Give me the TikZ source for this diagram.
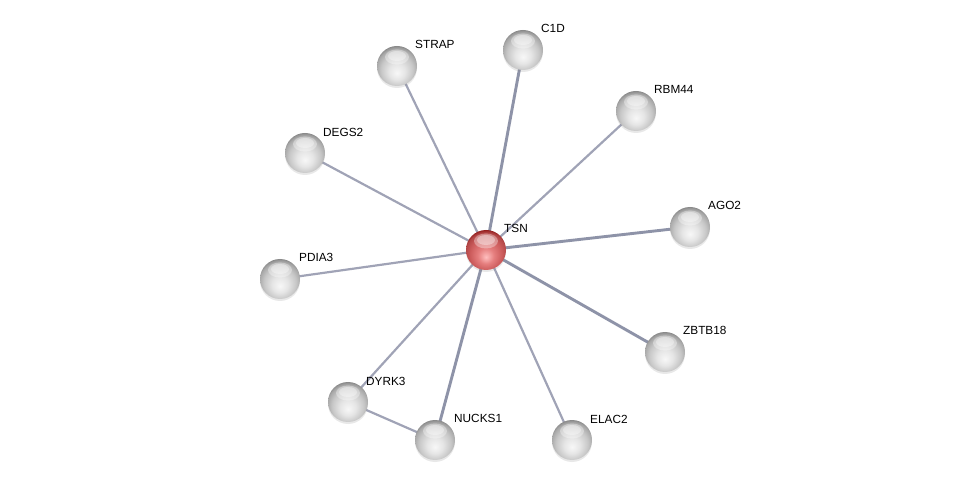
\documentclass[tikz,border=0pt]{standalone}
\usepackage{fontspec}
\setmainfont{Liberation Sans}
\usetikzlibrary{backgrounds,shadows}
\definecolor{edgec}{RGB}{160,163,182}
\definecolor{edgedk}{RGB}{142,147,168}
\pgfdeclareradialshading{gballsh}{\pgfpoint{0bp}{-9bp}}{color(0bp)=(black!3); color(10bp)=(black!10); color(20bp)=(black!22); color(26bp)=(black!34); color(31bp)=(black!55); color(50bp)=(black!55)}
\pgfdeclareradialshading{rballsh}{\pgfpoint{0bp}{-9bp}}{color(0bp)=(red!25!white); color(10bp)=(red!45!white!90!black); color(20bp)=(red!55!white!80!black); color(26bp)=(red!60!white!70!black); color(31bp)=(red!50!black); color(50bp)=(red!50!black)}
\begin{document}
\begin{tikzpicture}[x=1pt,y=-1pt,
  ballbase/.style={circle,minimum size=40pt,inner sep=0pt,
     drop shadow={shadow xshift=0pt,shadow yshift=-2pt,opacity=0.18},
     path picture={\fill[white,opacity=0.35] ([yshift=9pt]path picture bounding box.center) ellipse (12pt and 7.5pt);
                   \fill[white,opacity=0.35] ([yshift=10pt]path picture bounding box.center) ellipse (9pt and 5pt);}},
  gball/.style={ballbase,shading=gballsh},
  rball/.style={ballbase,shading=rballsh},
  lbl/.style={anchor=west,inner sep=0pt,font=\fontsize{11.8}{13}\selectfont},
  edge/.style={draw=edgec,line width=2.2pt},
  thick edge/.style={draw=edgedk,line width=2.9pt}]
\useasboundingbox (0,0) rectangle (975,486);
\node[rball] (TSN) at (486,250) {};
\node[gball] (STRAP) at (397,66) {};
\node[gball] (C1D) at (523,50) {};
\node[gball] (RBM44) at (636,111) {};
\node[gball] (DEGS2) at (305,153) {};
\node[gball] (AGO2) at (690,227) {};
\node[gball] (PDIA3) at (280,279) {};
\node[gball] (ZBTB18) at (665,352) {};
\node[gball] (DYRK3) at (348,402) {};
\node[gball] (NUCKS1) at (435,440) {};
\node[gball] (ELAC2) at (572,440) {};
\node[lbl] (lTSN) at (504,228) {TSN};
\node[lbl] (lSTRAP) at (415,44) {STRAP};
\node[lbl] (lC1D) at (541,28) {C1D};
\node[lbl] (lRBM44) at (654,89) {RBM44};
\node[lbl] (lDEGS2) at (323,132) {DEGS2};
\node[lbl] (lAGO2) at (708,205) {AGO2};
\node[lbl] (lPDIA3) at (299,257) {PDIA3};
\node[lbl] (lZBTB18) at (683,330) {ZBTB18};
\node[lbl] (lDYRK3) at (366,381) {DYRK3};
\node[lbl] (lNUCKS1) at (454,418) {NUCKS1};
\node[lbl] (lELAC2) at (590,419) {ELAC2};
\begin{scope}[on background layer]
\draw[edge] (TSN.center) -- (STRAP.center);
\draw[thick edge] (TSN.center) -- (C1D.center);
\draw[edge] (TSN.center) -- (RBM44.center);
\draw[edge] (TSN.center) -- (DEGS2.center);
\draw[thick edge] (TSN.center) -- (AGO2.center);
\draw[edge] (TSN.center) -- (PDIA3.center);
\draw[thick edge] (TSN.center) -- (ZBTB18.center);
\draw[edge] (TSN.center) -- (DYRK3.center);
\draw[thick edge] (TSN.center) -- (NUCKS1.center);
\draw[edge] (TSN.center) -- (ELAC2.center);
\draw[edge] (DYRK3.center) -- (NUCKS1.center);
\end{scope}
\end{tikzpicture}
\end{document}
